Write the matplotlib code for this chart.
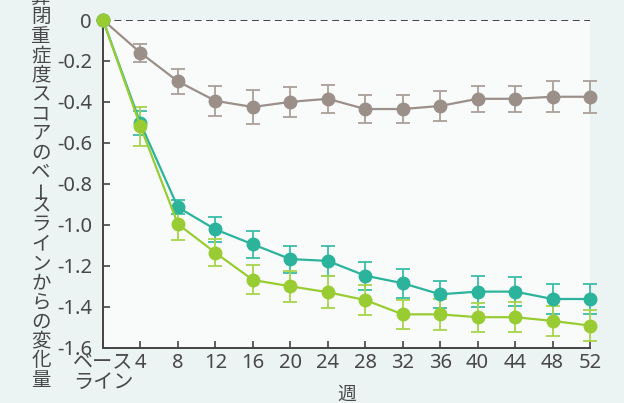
import matplotlib
matplotlib.use("Agg")
import matplotlib.pyplot as plt

plt.rcParams['font.family'] = ['Noto Sans', 'Noto Sans CJK JP', 'DejaVu Sans']
plt.rcParams['axes.unicode_minus'] = False

# 週 (0 = ベースライン)
weeks = [0, 4, 8, 12, 16, 20, 24, 28, 32, 36, 40, 44, 48, 52]
tick_labels = ['ベース\nライン', '4', '8', '12', '16', '20', '24', '28',
               '32', '36', '40', '44', '48', '52']

gray_mean = [0, -0.16, -0.30, -0.395, -0.425, -0.40, -0.385, -0.435, -0.435,
             -0.42, -0.385, -0.385, -0.375, -0.375]
gray_err = [0, 0.045, 0.063, 0.075, 0.083, 0.075, 0.067, 0.07, 0.07,
            0.075, 0.063, 0.065, 0.075, 0.078]

teal_mean = [0, -0.505, -0.915, -1.023, -1.096, -1.168, -1.177, -1.249, -1.286,
             -1.34, -1.327, -1.327, -1.363, -1.363]
teal_err = [0, 0.058, 0.035, 0.062, 0.066, 0.066, 0.075, 0.069, 0.07,
            0.067, 0.075, 0.072, 0.072, 0.072]

green_mean = [0, -0.52, -0.997, -1.137, -1.27, -1.301, -1.33, -1.368, -1.438,
              -1.438, -1.452, -1.452, -1.47, -1.493]
green_err = [0, 0.095, 0.08, 0.067, 0.071, 0.075, 0.077, 0.071, 0.07,
             0.075, 0.071, 0.073, 0.075, 0.074]

ylabel = '鼻閉重症度スコアのベースラインからの変化量'

fig = plt.figure(figsize=(6.24, 4.03), dpi=100, facecolor='#ebf3f3')
ax = fig.add_axes([103 / 624, 1 - 347.5 / 403, 487 / 624, 327.5 / 403])
ax.set_facecolor('#f9fbfb')

ax.axhline(0, color='#111111', linestyle=(0, (4.5, 3)), linewidth=1.1, zorder=1)

series = [
    (gray_mean, gray_err, '#9b8f89', '#aaa09b'),
    (teal_mean, teal_err, '#2bb39b', '#3bbca6'),
    (green_mean, green_err, '#99cc33', '#a6d44a'),
]
for mean, err, col, ecol in series:
    ax.errorbar(weeks, mean, yerr=err, color=col, ecolor=ecol,
                linewidth=1.6, elinewidth=1.3, capsize=5, capthick=1.3,
                marker='o', markersize=9, clip_on=False, zorder=3)

ax.set_xlim(0, 52)
ax.set_ylim(-1.6, 0)
ax.set_xticks(weeks)
ax.set_xticklabels(tick_labels, linespacing=1.0)
ax.set_yticks([0, -0.2, -0.4, -0.6, -0.8, -1.0, -1.2, -1.4, -1.6])
ax.set_yticklabels(['0', '-0.2', '-0.4', '-0.6', '-0.8', '-1.0', '-1.2', '-1.4', '-1.6'])
ax.tick_params(direction='in', length=5, width=1.2, color='#444444',
               labelcolor='#484848', labelsize=14.5)
ax.tick_params(axis='x', pad=4)
ax.tick_params(axis='y', pad=8)
for s in ['top', 'right']:
    ax.spines[s].set_visible(False)
for s in ['left', 'bottom']:
    ax.spines[s].set_color('#444444')
    ax.spines[s].set_linewidth(1.4)

ax.set_xlabel('週', fontsize=13.5, color='#484848', labelpad=-5)

# 縦書きの軸ラベル (長音符は回転、送りも短め)
y = 403 + 11.7
for ch in ylabel:
    adv = 14 if ch == 'ー' else 19.4
    rot = 90 if ch == 'ー' else 0
    fig.text(41 / 624, (y - adv / 2) / 403, ch, fontsize=14, color='#484848',
             ha='center', va='center', rotation=rot)
    y -= adv

fig.savefig('out.png', dpi=100, facecolor=fig.get_facecolor())
